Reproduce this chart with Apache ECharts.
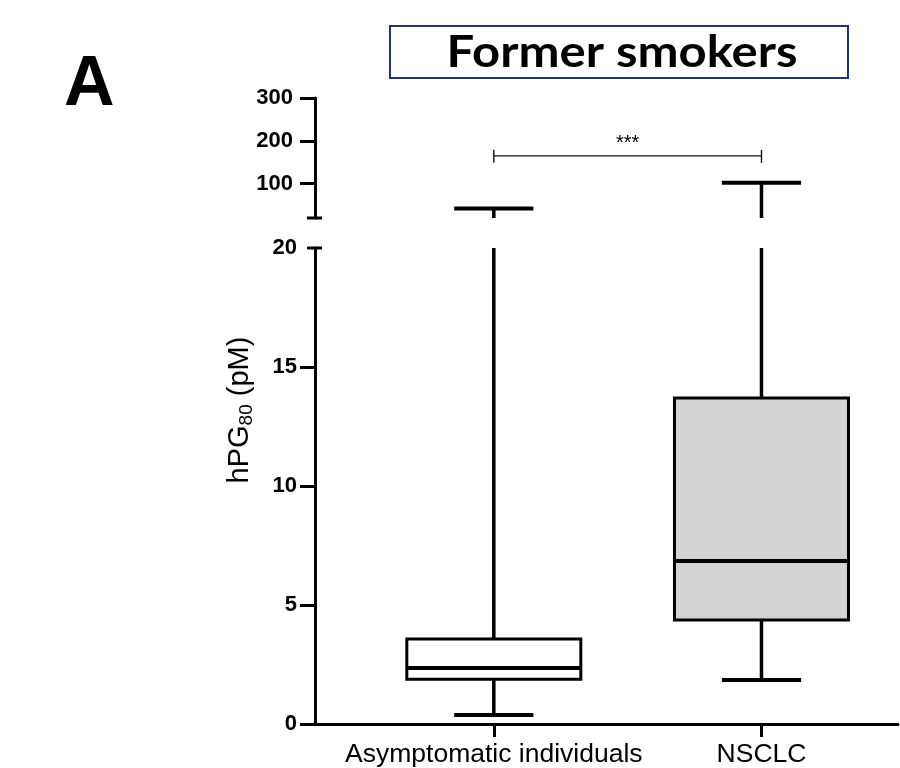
<!DOCTYPE html>
<html>
<head>
<meta charset="utf-8">
<script src="https://cdn.jsdelivr.net/npm/echarts@6/dist/echarts.min.js"></script>
<style>
  html, body { margin: 0; padding: 0; background: #fff; }
  #chart { width: 900px; height: 768px; }
</style>
</head>
<body>
<div id="chart"></div>
<script>
// Groups on the x axis
const categories = ['Asymptomatic individuals', 'NSCLC'];
// Five-number summaries: [min, Q1, median, Q3, max] in pM
const asymptomatic = [0.38, 1.88, 2.35, 3.57, 42];
const nsclc = [1.85, 4.37, 6.85, 13.7, 102];
// Broken y axis: lower and upper segments with their tick labels
const lowerRange = [0, 20];
const lowerTicks = [0, 5, 10, 15, 20];
const upperRange = [20, 300];
const upperTicks = [100, 200, 300];
// Significance bracket between the two groups
const bracketLevel = 165;
const bracketLabel = '***';

const FONT = "'Liberation Sans', Arial, Helvetica, sans-serif";
const AXIS = { color: '#000', width: 3 };
const X_MIN = 0.332, X_MAX = 2.51;
const boxFills = ['#ffffff', '#d3d3d3'];
const boxData = [asymptomatic, nsclc].map((s, i) => [i + 1].concat(s));

function renderBox(params, api) {
  const x = api.value(0);
  const mn = api.value(1), q1 = api.value(2), med = api.value(3), q3 = api.value(4), mx = api.value(5);
  const halfBox = 0.325, halfCap = 0.148;
  const c = (xv, yv) => api.coord([xv, yv]);
  const line = (a, b, w) => ({
    type: 'line',
    shape: { x1: a[0], y1: a[1], x2: b[0], y2: b[1] },
    style: { stroke: '#000', lineWidth: w, fill: null }
  });
  const tl = c(x - halfBox, q3), br = c(x + halfBox, q1);
  return {
    type: 'group',
    children: [
      line(c(x, mn), c(x, q1), 3.5),
      line(c(x, q3), c(x, mx), 3.5),
      line(c(x - halfCap, mn), c(x + halfCap, mn), 4),
      line(c(x - halfCap, mx), c(x + halfCap, mx), 4),
      {
        type: 'rect',
        shape: { x: tl[0], y: tl[1], width: br[0] - tl[0], height: br[1] - tl[1] },
        style: { fill: boxFills[params.dataIndex], stroke: '#000', lineWidth: 3 }
      },
      line(c(x - halfBox, med), c(x + halfBox, med), 4)
    ]
  };
}

function renderBreak(params, api) {
  const p = api.coord([api.value(0), api.value(1)]);
  return {
    type: 'line',
    shape: { x1: p[0] - 8, y1: p[1], x2: p[0] + 7, y2: p[1] },
    style: { stroke: '#000', lineWidth: 3 }
  };
}

function renderBracket(params, api) {
  const a = api.coord([api.value(0), api.value(2)]);
  const b = api.coord([api.value(1), api.value(2)]);
  const st = { stroke: '#111', lineWidth: 1.4 };
  return {
    type: 'group',
    children: [
      { type: 'line', shape: { x1: a[0], y1: a[1], x2: b[0], y2: b[1] }, style: st },
      { type: 'line', shape: { x1: a[0], y1: a[1] - 6, x2: a[0], y2: a[1] + 7 }, style: st },
      { type: 'line', shape: { x1: b[0], y1: b[1] - 6, x2: b[0], y2: b[1] + 7 }, style: st },
      {
        type: 'text',
        x: (a[0] + b[0]) / 2, y: a[1] - 2,
        style: { text: bracketLabel, font: '20px ' + FONT, fill: '#000',
                 textAlign: 'center', textVerticalAlign: 'bottom', align: 'center', verticalAlign: 'bottom' }
      }
    ]
  };
}

const chart = echarts.init(document.getElementById('chart'));
chart.setOption({
  animation: false,
  backgroundColor: '#fff',
  grid: [
    { left: 315, right: 2, top: 98, height: 120 },
    { left: 315, right: 2, top: 248, height: 476 }
  ],
  xAxis: [
    { gridIndex: 0, type: 'value', min: X_MIN, max: X_MAX, show: false },
    {
      gridIndex: 1, type: 'value', min: X_MIN, max: X_MAX,
      axisLine: { show: true, lineStyle: AXIS },
      splitLine: { show: false },
      axisTick: { show: true, customValues: [1, 2], length: 13, lineStyle: AXIS },
      axisLabel: {
        customValues: [1, 2],
        formatter: v => categories[Math.round(v) - 1] || '',
        fontFamily: FONT, fontSize: 26.5, color: '#000', margin: 17
      }
    }
  ],
  yAxis: [
    {
      gridIndex: 0, type: 'value', min: upperRange[0], max: upperRange[1],
      axisLine: { show: true, lineStyle: AXIS },
      splitLine: { show: false },
      axisTick: { show: true, customValues: upperTicks, length: 15, lineStyle: AXIS },
      axisLabel: { customValues: upperTicks, fontFamily: FONT, fontWeight: 'bold', fontSize: 22, color: '#000', margin: 22 }
    },
    {
      gridIndex: 1, type: 'value', min: lowerRange[0], max: lowerRange[1], interval: 5,
      axisLine: { show: true, lineStyle: AXIS },
      splitLine: { show: false },
      axisTick: { show: true, customValues: lowerTicks.slice(0, -1), length: 15, lineStyle: AXIS },
      axisLabel: { customValues: lowerTicks, fontFamily: FONT, fontWeight: 'bold', fontSize: 22, color: '#000', margin: 18 }
    }
  ],
  series: [
    { type: 'custom', xAxisIndex: 0, yAxisIndex: 0, clip: true, renderItem: renderBox, data: boxData, silent: true },
    { type: 'custom', xAxisIndex: 1, yAxisIndex: 1, clip: true, renderItem: renderBox, data: boxData, silent: true },
    { type: 'custom', xAxisIndex: 0, yAxisIndex: 0, clip: false, renderItem: renderBreak, data: [[X_MIN, upperRange[0]]], silent: true, z: 5 },
    { type: 'custom', xAxisIndex: 1, yAxisIndex: 1, clip: false, renderItem: renderBreak, data: [[X_MIN, lowerRange[1]]], silent: true, z: 5 },
    { type: 'custom', xAxisIndex: 0, yAxisIndex: 0, clip: false, renderItem: renderBracket, data: [[1, 2, bracketLevel]], silent: true }
  ],
  graphic: [
    {
      type: 'rect', shape: { x: 390, y: 26, width: 458, height: 52 },
      style: { fill: '#fff', stroke: '#1f3864', lineWidth: 2 }
    },
    {
      type: 'text', x: 622, y: 53, scaleX: 1.14,
      style: { text: 'Former smokers', font: 'bold 43px Lato, "Open Sans", sans-serif', fill: '#000',
               textAlign: 'center', textVerticalAlign: 'middle', align: 'center', verticalAlign: 'middle' }
    },
    {
      type: 'text', x: 64, y: 86,
      style: { text: 'A', font: 'bold 70px ' + FONT, fill: '#000',
               textAlign: 'left', textVerticalAlign: 'middle', align: 'left', verticalAlign: 'middle' }
    },
    {
      type: 'text', x: 240, y: 410, rotation: Math.PI / 2,
      style: {
        text: 'hPG{sub|80} (pM)',
        fontFamily: FONT, fontSize: 29, fill: '#000',
        textAlign: 'center', textVerticalAlign: 'middle', align: 'center', verticalAlign: 'middle',
        rich: { sub: { fontFamily: FONT, fontSize: 19, padding: [14, 0, 0, 0], fill: '#000' } }
      }
    }
  ]
});
</script>
</body>
</html>
